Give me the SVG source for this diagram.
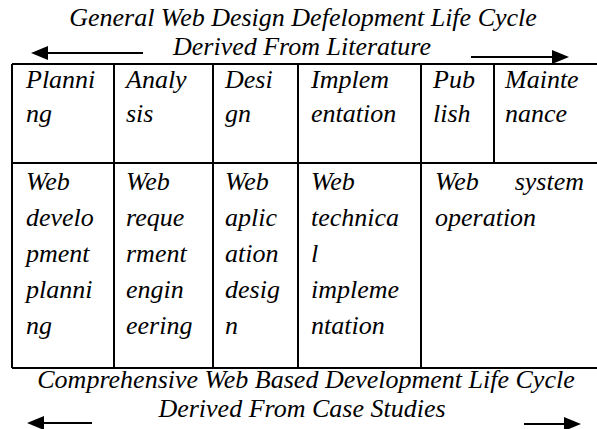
<svg xmlns="http://www.w3.org/2000/svg" width="597" height="429" viewBox="0 0 597 429">
<defs>
<style>
text{font-family:"Liberation Serif","Times New Roman",serif;font-style:italic;font-size:26px;fill:#000}
.t{text-anchor:middle}
.ln{stroke:#000;stroke-width:2;fill:none}
.ar{stroke:#000;stroke-width:2.2;fill:none}
.hd{fill:#000;stroke:none}
</style>
</defs>
<rect width="597" height="429" fill="#fff"/>
<g id="titles">
<text class="t" x="303" y="26">General Web Design Defelopment Life Cycle</text>
<text class="t" x="302" y="55">Derived From Literature</text>
<text class="t" x="306" y="388">Comprehensive Web Based Development Life Cycle</text>
<text class="t" x="302" y="417">Derived From Case Studies</text>
</g>
<g id="connectors">
<line class="ar" x1="143" y1="53" x2="46" y2="53"/>
<polygon class="hd" points="31,53 48,46 48,60"/>
<line class="ar" x1="471" y1="57" x2="555" y2="57"/>
<polygon class="hd" points="569,57 552,50 552,64"/>
<line class="ar" x1="92" y1="423" x2="42" y2="423"/>
<polygon class="hd" points="27,423 44,416 44,430"/>
<line class="ar" x1="524" y1="424" x2="566" y2="424"/>
<polygon class="hd" points="581,424 564,417 564,431"/>
</g>
<g id="table">
<path class="ln" d="M12,64 H597 M12,163 H597 M12,368 H597 M12,64 V368 M114,64 V368 M213,64 V368 M298,64 V368 M421,64 V368 M494,64 V163"/>
</g>
<g id="phase-planning"><text x="26" y="88">Planni</text><text x="26" y="122">ng</text></g>
<g id="phase-analysis"><text x="126" y="88">Analy</text><text x="126" y="122">sis</text></g>
<g id="phase-design"><text x="225" y="88">Desi</text><text x="225" y="122">gn</text></g>
<g id="phase-implementation"><text x="311" y="88">Implem</text><text x="311" y="122">entation</text></g>
<g id="phase-publish"><text x="433" y="88">Pub</text><text x="433" y="122">lish</text></g>
<g id="phase-maintenance"><text x="505" y="88">Mainte</text><text x="505" y="122">nance</text></g>
<g id="web-dev-planning"><text x="26" y="190">Web</text><text x="26" y="226">develo</text><text x="26" y="262">pment</text><text x="26" y="298">planni</text><text x="26" y="334">ng</text></g>
<g id="web-req-eng"><text x="126" y="190">Web</text><text x="126" y="226">reque</text><text x="126" y="262">rment</text><text x="126" y="298">engin</text><text x="126" y="334">eering</text></g>
<g id="web-app-design"><text x="225" y="190">Web</text><text x="225" y="226">aplic</text><text x="225" y="262">ation</text><text x="225" y="298">desig</text><text x="225" y="334">n</text></g>
<g id="web-tech-impl"><text x="311" y="190">Web</text><text x="311" y="226">technica</text><text x="311" y="262">l</text><text x="311" y="298">impleme</text><text x="311" y="334">ntation</text></g>
<g id="web-system-op"><text x="435" y="190">Web</text><text x="584" y="190" text-anchor="end">system</text><text x="435" y="226">operation</text></g>
</svg>
